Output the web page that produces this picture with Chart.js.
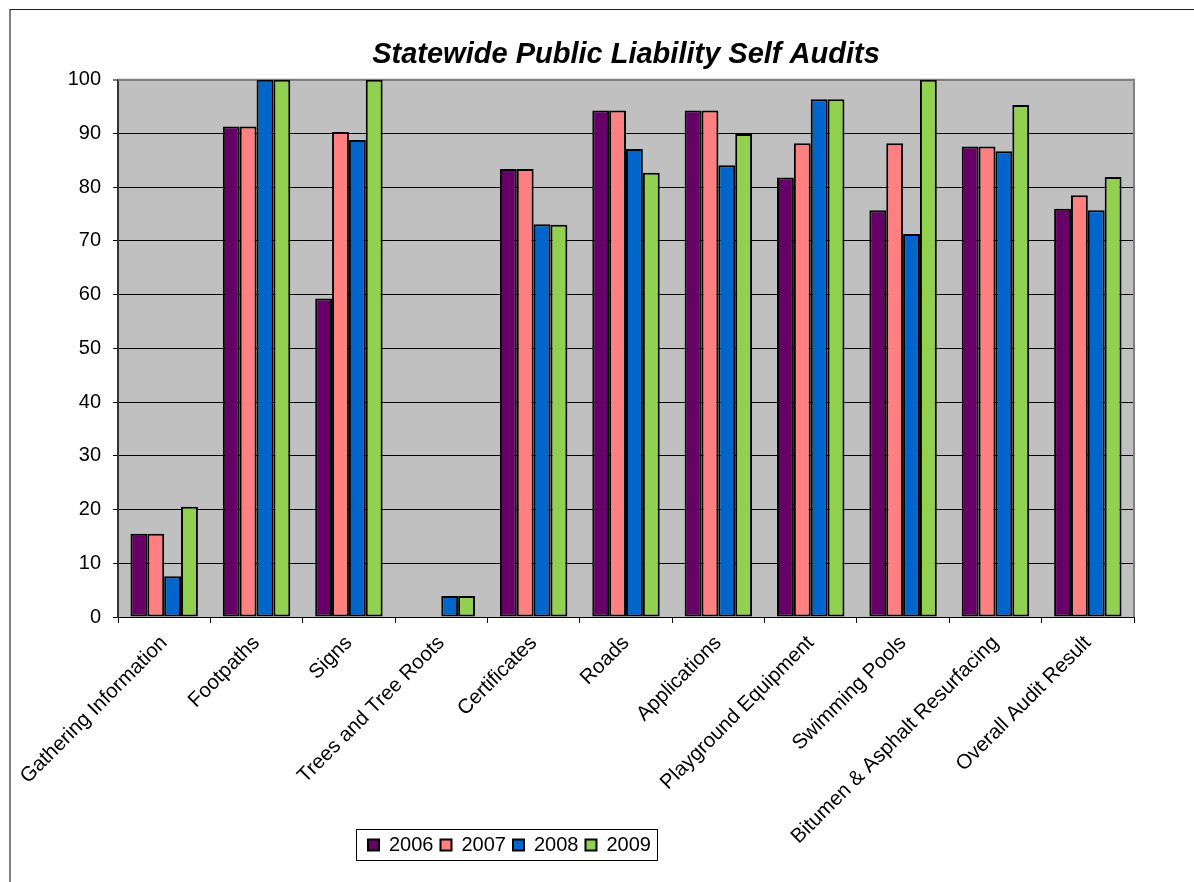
<!DOCTYPE html>
<html>
<head>
<meta charset="utf-8">
<script src="https://cdn.jsdelivr.net/npm/chart.js@4/dist/chart.umd.min.js"></script>
<style>
    body { margin: 0; background: #fff; overflow: hidden; }
    #frame {
        position: absolute; left: 9px; top: 9px; width: 1400px; height: 1000px;
        border-top: 1px solid #222; border-left: 2px solid #808080;
    }
    #wrap { position: absolute; left: 0; top: 0; width: 1194px; height: 882px; }
</style>
</head>
<body>
<div id="frame"></div>
<div id="wrap"><canvas id="chart" width="1194" height="882"></canvas></div>
<script>
const categories = ['Gathering Information', 'Footpaths', 'Signs', 'Trees and Tree Roots', 'Certificates',
    'Roads', 'Applications', 'Playground Equipment', 'Swimming Pools', 'Bitumen & Asphalt Resurfacing',
    'Overall Audit Result']
const years = ['2006', '2007', '2008', '2009']
const values2006 = [15.5, 91.3, 59.3, 0, 83.4, 94.3, 94.3, 81.8, 75.7, 87.6, 76.0]
const values2007 = [15.5, 91.3, 90.3, 0, 83.4, 94.3, 94.3, 88.2, 88.2, 87.6, 78.5]
const values2008 = [7.6, 100, 88.8, 3.9, 73.1, 87.1, 84.1, 96.4, 71.3, 86.7, 75.7]
const values2009 = [20.5, 100, 100, 3.9, 73.0, 82.7, 89.9, 96.4, 100, 95.3, 81.9]
const yTicks = [0, 10, 20, 30, 40, 50, 60, 70, 80, 90, 100]

const colors = ['#660066', '#FF8080', '#0066CC', '#92D050']
const font = 'Liberation Sans, Arial, sans-serif'

// gray plot area + borders, and a box round the legend
const plotFrame = {
    id: 'plotFrame',
    beforeDraw(chart) {
        const { ctx, chartArea: a } = chart
        ctx.save()
        ctx.fillStyle = '#C0C0C0'
        ctx.fillRect(a.left, a.top, a.right - a.left, a.bottom - a.top)
        ctx.restore()
    },
    beforeDatasetsDraw(chart) {
        const { ctx, chartArea: a } = chart
        ctx.save()
        ctx.strokeStyle = '#808080'
        ctx.lineWidth = 2
        ctx.beginPath()
        ctx.moveTo(a.left, a.top)
        ctx.lineTo(a.right, a.top)
        ctx.lineTo(a.right, a.bottom)
        ctx.stroke()
        ctx.restore()
    },
    afterLayout(chart) {
        // move legend left so it sits where the original has it
        const lg = chart.legend
        const pad = lg.options.labels.padding
        const start = (lg.left + pad + lg.right - lg.lineWidths[0]) / 2
        const shift = 368 - start
        lg.left += shift
        lg.right += shift
        // let the rotated x labels run down past the legend (labels are clipped to the axis box)
        chart.scales.x.bottom = chart.height
    },
    afterDraw(chart) {
        const lg = chart.legend
        const boxes = lg.legendHitBoxes
        if (!boxes || !boxes.length) return
        const first = boxes[0]
        const last = boxes[boxes.length - 1]
        const mid = first.top + first.height / 2
        const { ctx } = chart
        ctx.save()
        ctx.strokeStyle = '#000'
        ctx.lineWidth = 1
        const x0 = Math.round(first.left - 12)
        const x1 = Math.round(last.left + last.width + 6)
        ctx.strokeRect(x0 + 0.5, Math.round(mid - 16) + 0.5, x1 - x0, 31)
        ctx.restore()
    }
}

const datasets = [values2006, values2007, values2008, values2009].map((vals, i) => ({
    label: years[i],
    data: vals,
    backgroundColor: colors[i],
    borderColor: '#000',
    borderWidth: 2,
    borderSkipped: false,
    categoryPercentage: 0.73,
    barPercentage: 1
}))

const ctx = document.getElementById('chart').getContext('2d')
const chart = new Chart(ctx, {
    type: 'bar',
    data: { labels: categories, datasets: datasets },
    plugins: [plotFrame],
    options: {
        responsive: false,
        animation: false,
        layout: { padding: { left: 0, right: 60, top: 0, bottom: 17 } },
        plugins: {
            title: {
                display: true,
                fullSize: false,
                text: 'Statewide Public Liability Self Audits',
                color: '#000',
                font: { family: font, size: 29, weight: 'bold', style: 'italic' },
                padding: { top: 38, bottom: 7 }
            },
            legend: {
                position: 'bottom',
                labels: {
                    color: '#000',
                    font: { family: font, size: 20 },
                    boxWidth: 11,
                    boxHeight: 11,
                    padding: 7
                }
            },
            tooltip: { enabled: false }
        },
        scales: {
            x: {
                grid: {
                    display: true,
                    drawOnChartArea: false,
                    drawTicks: true,
                    tickLength: 6,
                    color: '#000'
                },
                border: { color: '#000', width: 1 },
                ticks: {
                    color: '#000',
                    font: { family: font, size: 20.5 },
                    minRotation: 45,
                    maxRotation: 45,
                    padding: 8,
                    autoSkip: false
                },
                afterFit(scale) { scale.height = 211 }
            },
            y: {
                min: 0,
                max: 100,
                afterBuildTicks(scale) { scale.ticks = yTicks.map(v => ({ value: v })) },
                grid: {
                    color: c => c.tick && c.tick.value === 100 ? '#808080' : '#000',
                    lineWidth: c => c.tick && c.tick.value === 100 ? 2 : 1,
                    tickLength: 5
                },
                border: { color: '#333', width: 2 },
                ticks: {
                    color: '#000',
                    font: { family: font, size: 20 },
                    padding: 12
                },
                afterFit(scale) { scale.width = 118 }
            }
        }
    }
})
</script>
</body>
</html>
